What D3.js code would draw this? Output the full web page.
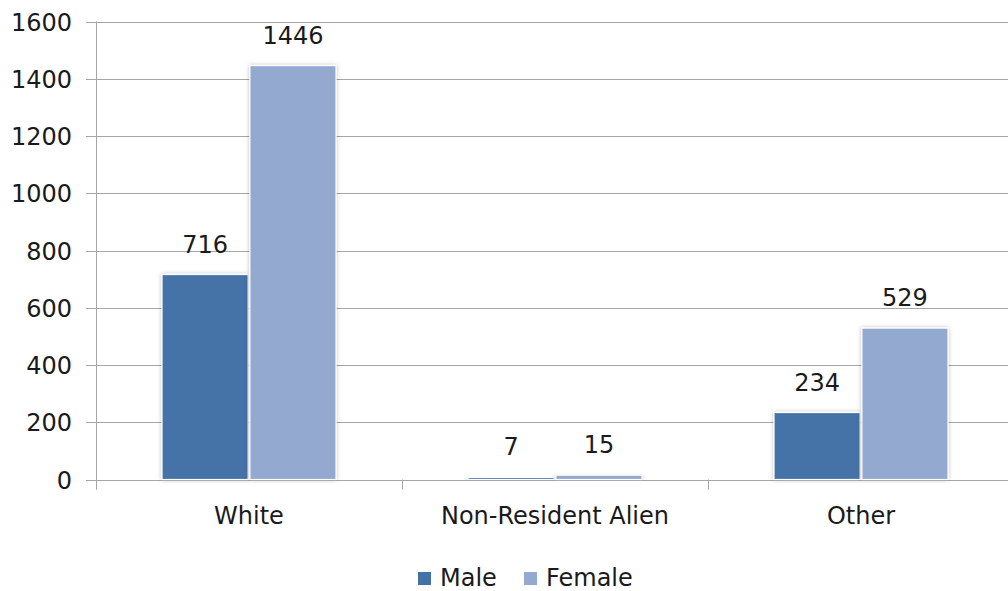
<!DOCTYPE html>
<html><head><meta charset="utf-8">
<script src="https://cdn.jsdelivr.net/npm/d3@7/dist/d3.min.js"></script>
<style>body{margin:0;background:#fff}text{font-family:"DejaVu Sans",sans-serif;fill:#1a1a1a}</style>
</head><body>
<svg id="c" width="1008" height="591"></svg>
<script>
const categories = ["White", "Non-Resident Alien", "Other"];
const series = ["Male", "Female"];
const maleValues = [716, 7, 234];
const femaleValues = [1446, 15, 529];
const yTicks = [0, 200, 400, 600, 800, 1000, 1200, 1400, 1600];
const colors = ["#4472A7", "#94A9D0"];

(function () {
const svg = d3.select("#c");
const pLeft = 96, pRight = 1014, pTop = 21.5, pBottom = 479.5;
const fs = 24;
const y = d3.scaleLinear().domain([0, 1600]).range([pBottom, pTop]);
const x0 = d3.scaleBand().domain(categories).range([pLeft, pRight]).paddingInner(0).paddingOuter(0);
const x1 = d3.scaleBand().domain(series).range([66, x0.bandwidth() - 66]).paddingInner(0.02);

const defs = svg.append("defs");
const f = defs.append("filter").attr("id", "sh").attr("x", "-20%").attr("y", "-20%").attr("width", "140%").attr("height", "140%");
f.append("feDropShadow").attr("dx", 0).attr("dy", 0).attr("stdDeviation", 2).attr("flood-color", "#000").attr("flood-opacity", 0.25);

svg.append("g").selectAll("line").data(yTicks).join("line")
  .attr("x1", pLeft - 10).attr("x2", 1008)
  .attr("y1", d => Math.round(y(d)) + 0.5).attr("y2", d => Math.round(y(d)) + 0.5)
  .attr("stroke", "#a6a6a6").attr("stroke-width", 1);
svg.append("line").attr("x1", pLeft + 0.5).attr("x2", pLeft + 0.5).attr("y1", pTop).attr("y2", pBottom + 10)
  .attr("stroke", "#a6a6a6");
svg.append("g").selectAll("line").data(categories).join("line")
  .attr("x1", d => Math.round(x0(d)) + 0.5).attr("x2", d => Math.round(x0(d)) + 0.5)
  .attr("y1", pBottom).attr("y2", pBottom + 10).attr("stroke", "#a6a6a6");

svg.append("g").selectAll("text").data(yTicks).join("text")
  .attr("x", 72).attr("y", d => y(d) + 9).attr("text-anchor", "end")
  .attr("font-size", fs).text(d => d);

const data = categories.map((c, i) => ({c, vals: [maleValues[i], femaleValues[i]]}));
const g = svg.append("g").selectAll("g").data(data).join("g")
  .attr("transform", d => `translate(${x0(d.c)},0)`);
g.selectAll("rect").data(d => d.vals.map((v, i) => ({s: series[i], v, i}))).join("rect")
  .attr("x", d => x1(d.s)).attr("width", x1.bandwidth())
  .attr("y", d => y(d.v)).attr("height", d => Math.max(0, pBottom - y(d.v)))
  .attr("fill", d => colors[d.i]).attr("stroke", "#fff").attr("stroke-width", 1.2)
  .attr("filter", "url(#sh)");
g.selectAll("text").data(d => d.vals.map((v, i) => ({s: series[i], v, i}))).join("text")
  .attr("x", d => x1(d.s) + x1.bandwidth() / 2).attr("y", d => y(d.v) - 22)
  .attr("text-anchor", "middle").attr("font-size", fs).text(d => d.v);

svg.append("g").selectAll("text").data(categories).join("text")
  .attr("x", d => x0(d) + x0.bandwidth() / 2).attr("y", 524)
  .attr("text-anchor", "middle").attr("font-size", fs).text(d => d);

const lg = svg.append("g");
const legendX = [418, 524];
series.forEach((s, i) => {
  lg.append("rect").attr("x", legendX[i]).attr("y", 572).attr("width", 13).attr("height", 13).attr("fill", colors[i]);
  lg.append("text").attr("x", legendX[i] + 22).attr("y", 586).attr("font-size", fs).text(s);
});
})();
</script>
</body></html>
